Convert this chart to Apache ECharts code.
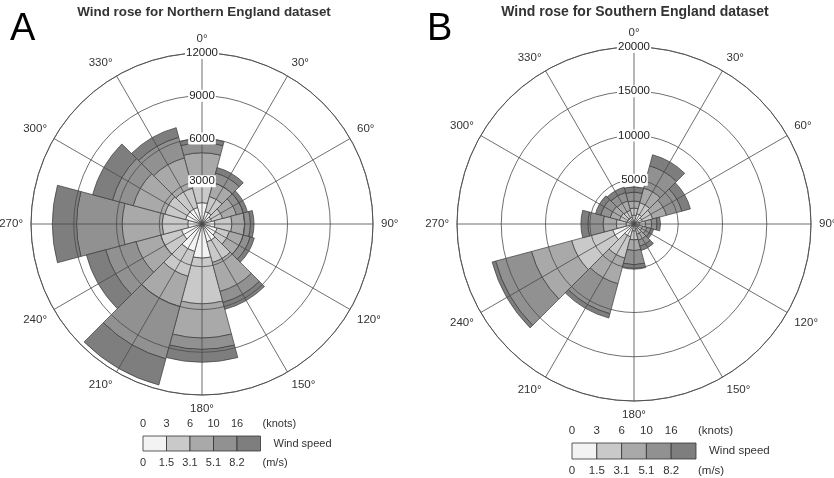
<!DOCTYPE html>
<html><head><meta charset="utf-8">
<script src="https://cdn.jsdelivr.net/npm/echarts@6/dist/echarts.min.js"></script>
<style>html,body{margin:0;padding:0;background:#fff}#c{width:834px;height:478px}</style>
</head><body><div id="c"></div>
<script>
// ---- data ----
const directions = ['0°','30°','60°','90°','120°','150°','180°','210°','240°','270°','300°','330°'];
const speedClasses = ['0-3 knots','3-6 knots','6-10 knots','10-16 knots','>16 knots'];
const knotsTicks = ['0','3','6','10','16'];
const msTicks = ['0','1.5','3.1','5.1','8.2'];
const classColors = ['#f3f3f3','#c9c9c9','#a9a9a9','#919191','#7e7e7e'];

// Northern England (counts per direction)
const north_0_3    = [1500, 900, 700, 900,1100,1300,2400,2000,1500,1000,1200,1200];
const north_3_6    = [1200,1100, 800,1200, 900,1500,3200,1800,1500,1800,1500,1400];
const north_6_10   = [2300,1000,1000, 900,1000,2100,2400,2200,1800,2800,2300,2200];
const north_10_16  = [ 700, 700, 500, 400, 500, 800, 800,3800,2200,3200,1500,1500];
const north_16plus = [ 300, 400, 300, 250, 300, 500, 900,1900,1400,1700,1450, 700];

// Southern England (counts per direction)
const south_0_3    = [1000,1200,1000, 600, 500, 600, 800,1500,2500, 900, 800, 800];
const south_3_6    = [ 800,1300,1200, 700, 500, 600,1000,2500,4800,1100, 900, 800];
const south_6_10   = [ 800,1700,1600, 700, 500, 700,1200,3000,4700,1500,1100,1100];
const south_10_16  = [1000,2600,1800, 600, 500, 700,1600,3500,4200,1700,1100,1000];
const south_16plus = [ 600,1300,1000, 400, 300, 500, 500, 500, 400, 800, 600, 600];

const northTitle = 'Wind rose for Northern England dataset';
const southTitle = 'Wind rose for Southern England dataset';

// ---- layout ----
const panels = [
  {title: northTitle, letter: 'A', center: [202, 224], radius: 171, max: 12000, interval: 3000,
   series: [north_0_3, north_3_6, north_6_10, north_10_16, north_16plus],
   titleX: 204, titleY: 12, titleSize: 13.4, letterX: 10, letterY: 30,
   legend: {x: 143, y: 436, w: 23.5, h: 15, fs: 11}},
  {title: southTitle, letter: 'B', center: [634, 224], radius: 177, max: 20000, interval: 5000,
   series: [south_0_3, south_3_6, south_6_10, south_10_16, south_16plus],
   titleX: 635, titleY: 12, titleSize: 14, letterX: 427, letterY: 30,
   legend: {x: 572, y: 443, w: 24.8, h: 16, fs: 11.5}}
];

const FONT = '"Liberation Sans", Arial, sans-serif';
const lineCol = '#4a4a4a';
const polar = [], angleAxis = [], radiusAxis = [], series = [], graphic = [];

panels.forEach((p, k) => {
  const g = k * 2, b = k * 2 + 1;
  polar.push({center: p.center, radius: p.radius});
  polar.push({center: p.center, radius: p.radius});
  angleAxis.push({
    polarIndex: g, type: 'value', min: 0, max: 360, interval: 30, startAngle: 90, clockwise: true, z: 5,
    axisLine: {show: true, lineStyle: {color: lineCol, width: 0.8}},
    axisTick: {show: false},
    axisLabel: {show: true, margin: 8, formatter: '{value}°', color: '#333', fontSize: 11.5, fontFamily: FONT},
    splitLine: {show: true, lineStyle: {color: lineCol, width: 0.8}},
    splitArea: {show: false}
  });
  radiusAxis.push({
    polarIndex: g, type: 'value', min: 0, max: p.max, interval: p.interval, z: 6,
    axisLine: {show: false}, axisTick: {show: false},
    splitLine: {show: true, lineStyle: {color: lineCol, width: 0.8}},
    axisLabel: {show: true, showMinLabel: false, margin: 0, align: 'center', verticalAlign: 'middle',
      formatter: v => String(v),
      backgroundColor: '#fff', padding: [0, 1, 0, 1], color: '#222', fontSize: 11.5, fontFamily: FONT}
  });
  angleAxis.push({
    polarIndex: b, type: 'category', data: directions, startAngle: 105, clockwise: true,
    axisLine: {show: false}, axisTick: {show: false}, axisLabel: {show: false}, splitLine: {show: false}
  });
  radiusAxis.push({
    polarIndex: b, type: 'value', min: 0, max: p.max,
    axisLine: {show: false}, axisTick: {show: false}, axisLabel: {show: false}, splitLine: {show: false}
  });
  p.series.forEach((d, i) => {
    series.push({
      type: 'bar', coordinateSystem: 'polar', polarIndex: b, stack: 'panel' + k, name: speedClasses[i],
      data: d, barCategoryGap: '0%', z: 2, silent: true,
      itemStyle: {color: classColors[i], borderColor: '#3c3c3c', borderWidth: 0.7}
    });
  });
  // titles
  graphic.push({type: 'text', x: p.titleX, y: p.titleY, style: {text: p.title, align: 'center', verticalAlign: 'middle',
    font: 'bold ' + p.titleSize + 'px ' + FONT, fill: '#333'}});
  graphic.push({type: 'text', x: p.letterX, y: p.letterY, style: {text: p.letter, align: 'left', verticalAlign: 'middle',
    font: '38px ' + FONT, fill: '#000'}});
  // legend
  const L = p.legend;
  classColors.forEach((c, i) => {
    graphic.push({type: 'rect', shape: {x: L.x + i * L.w, y: L.y, width: L.w, height: L.h},
      style: {fill: c, stroke: '#333', lineWidth: 0.8}});
  });
  knotsTicks.forEach((t, i) => {
    graphic.push({type: 'text', x: L.x + i * L.w, y: L.y - 12, style: {text: t, align: 'center', verticalAlign: 'middle',
      font: L.fs + 'px ' + FONT, fill: '#333'}});
  });
  msTicks.forEach((t, i) => {
    graphic.push({type: 'text', x: L.x + i * L.w, y: L.y + L.h + 12, style: {text: t, align: 'center', verticalAlign: 'middle',
      font: L.fs + 'px ' + FONT, fill: '#333'}});
  });
  const xr = L.x + 5 * L.w;
  graphic.push({type: 'text', x: xr + 2, y: L.y - 12, style: {text: '(knots)', align: 'left', verticalAlign: 'middle', font: L.fs + 'px ' + FONT, fill: '#333'}});
  graphic.push({type: 'text', x: xr + 2, y: L.y + L.h + 12, style: {text: '(m/s)', align: 'left', verticalAlign: 'middle', font: L.fs + 'px ' + FONT, fill: '#333'}});
  graphic.push({type: 'text', x: xr + 13, y: L.y + L.h / 2, style: {text: 'Wind speed', align: 'left', verticalAlign: 'middle', font: L.fs + 'px ' + FONT, fill: '#333'}});
});

const chart = echarts.init(document.getElementById('c'), null, {renderer: 'canvas'});
chart.setOption({
  backgroundColor: '#fff',
  animation: false,
  polar, angleAxis, radiusAxis, series, graphic,
  tooltip: {show: false}
});
</script></body></html>
